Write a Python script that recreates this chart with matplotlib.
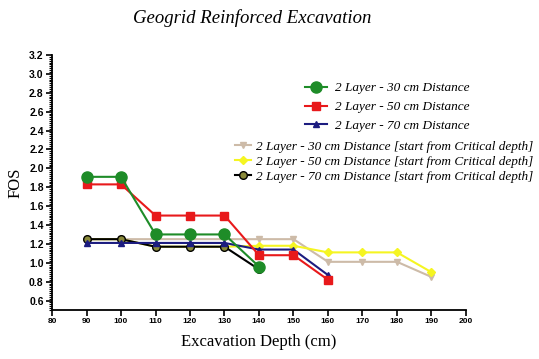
import matplotlib
matplotlib.use("Agg")
import matplotlib.pyplot as plt
from matplotlib.ticker import MultipleLocator
import numpy as np

# Data
depth_a = [90, 100, 110, 120, 130, 140]
fos_30 = [1.91, 1.91, 1.30, 1.30, 1.30, 0.96]

depth_b = [90, 100, 110, 120, 130, 140, 150, 160]
fos_50 = [1.83, 1.83, 1.50, 1.50, 1.50, 1.08, 1.08, 0.82]
fos_70 = [1.21, 1.21, 1.21, 1.21, 1.21, 1.14, 1.14, 0.87]

depth_c = [90, 100, 110, 120, 130, 140, 150, 160, 170, 180, 190]
fos_30c = [1.25, 1.25, 1.25, 1.25, 1.25, 1.25, 1.25, 1.01, 1.01, 1.01, 0.85]
fos_50c = [1.25, 1.25, 1.17, 1.17, 1.17, 1.18, 1.18, 1.11, 1.11, 1.11, 0.90]

depth_d = [90, 100, 110, 120, 130, 140]
fos_70c = [1.25, 1.25, 1.17, 1.17, 1.17, 0.93]

serif = "Liberation Serif"
sans = "Liberation Sans"

fig = plt.figure(figsize=(5.39, 3.59), dpi=100)
ax = fig.add_axes([0.0965, 0.1365, 0.768, 0.7103])

l4, = ax.plot(depth_c, fos_30c, color="#cdbba8", marker="v", ms=5, lw=1.5,
              label="2 Layer - 30 cm Distance [start from Critical depth]")
l5, = ax.plot(depth_c, fos_50c, color="#f5f522", marker="D", ms=4, lw=1.5,
              label="2 Layer - 50 cm Distance [start from Critical depth]")
l6, = ax.plot(depth_d, fos_70c, color="black", marker="o", ms=5.5, mfc="#8a8a3a",
              mec="black", lw=1.5,
              label="2 Layer - 70 cm Distance [start from Critical depth]")
l3, = ax.plot(depth_b, fos_70, color="#1c1c80", marker="^", ms=5, lw=1.5,
              label="2 Layer - 70 cm Distance")
l2, = ax.plot(depth_b, fos_50, color="#e8191b", marker="s", ms=6, lw=1.5,
              label="2 Layer - 50 cm Distance")
l1, = ax.plot(depth_a, fos_30, color="#1e8c28", marker="o", ms=8, lw=1.5,
              label="2 Layer - 30 cm Distance")

ax.set_xlim(80, 200)
ax.set_ylim(0.5, 3.2)
ax.xaxis.set_major_locator(MultipleLocator(10))
ax.yaxis.set_minor_locator(MultipleLocator(0.02))
ax.set_yticks(np.arange(0.6, 3.21, 0.2))
ax.spines["top"].set_visible(False)
ax.spines["right"].set_visible(False)
for s in ["left", "bottom"]:
    ax.spines[s].set_linewidth(1.3)
ax.tick_params(axis="both", which="major", length=4, width=1.2, pad=2)
ax.tick_params(axis="y", which="minor", length=2.5, width=0.8)
for lab in ax.get_xticklabels() + ax.get_yticklabels():
    lab.set_fontfamily(sans)
    lab.set_fontweight("bold")
for lab in ax.get_xticklabels():
    lab.set_fontsize(6)
for lab in ax.get_yticklabels():
    lab.set_fontsize(7.5)

ax.set_xlabel("Excavation Depth (cm)", fontfamily=serif, fontsize=12, labelpad=6)
ax.set_ylabel("FOS", fontfamily=serif, fontsize=12, labelpad=4)
fig.text(0.468, 0.95, "Geogrid Reinforced Excavation", fontfamily=serif,
         fontstyle="italic", fontsize=13.5, ha="center", va="center")

leg_font = {"family": serif, "style": "italic", "size": 9.5}
leg1 = ax.legend(handles=[l1, l2, l3], loc="upper left", bbox_to_anchor=(0.59, 0.93),
                 frameon=False, prop=leg_font, handlelength=1.6, handletextpad=0.6,
                 labelspacing=0.5, borderpad=0.2)
ax.add_artist(leg1)
ax.legend(handles=[l4, l5, l6], loc="upper left", bbox_to_anchor=(0.42, 0.70),
          frameon=False, prop=leg_font, handlelength=1.2, handletextpad=0.4,
          labelspacing=0.2, borderpad=0.2)

fig.savefig("out.png", dpi=100)
